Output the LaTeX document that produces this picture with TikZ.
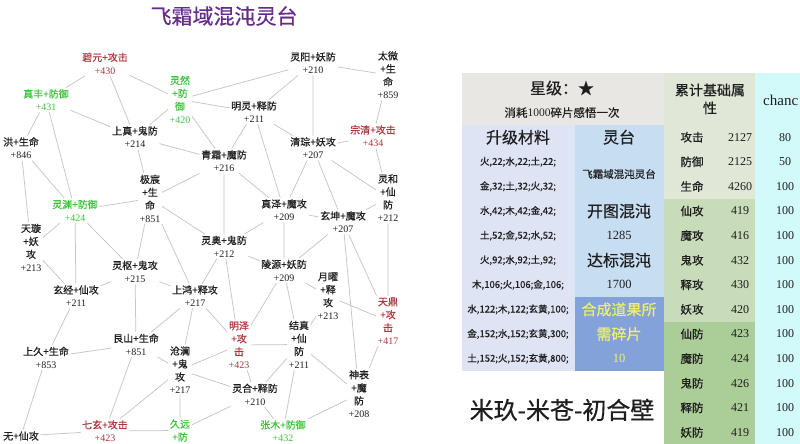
\documentclass[tikz,border=0pt]{standalone}
\usepackage{fontspec}
\setmainfont{Liberation Serif}
\newfontfamily\cjk[FakeBold=0.5]{Noto Sans CJK SC}
\newcommand\nm[1]{{\rmfamily #1}}
\definecolor{nodeblack}{HTML}{1E1E1E}
\definecolor{nodered}{HTML}{B0343C}
\definecolor{nodegreen}{HTML}{3DC43D}
\definecolor{edgegray}{HTML}{C3C7C7}
\definecolor{titlepurple}{HTML}{652C8C}
\definecolor{hdgray}{HTML}{E9E7E3}
\definecolor{matblue}{HTML}{DEE4F4}
\definecolor{taiblue}{HTML}{C7DDF1}
\definecolor{deepblue}{HTML}{83A2DA}
\definecolor{yellowtxt}{HTML}{F0F266}
\definecolor{grnhead}{HTML}{E0E7D7}
\definecolor{grnmid}{HTML}{C9DCB9}
\definecolor{grndark}{HTML}{ABCD97}
\definecolor{cyanbg}{HTML}{D3FAFA}
\begin{document}
\begin{tikzpicture}[x=1pt, y=-1pt,
		tn/.style={font=\cjk\fontsize{10}{13}\selectfont, align=center, inner sep=1.5pt, text=nodeblack},
		rn/.style={tn, text=nodered},
		gn/.style={tn, text=nodegreen},
		link/.style={draw=edgegray, line width=0.75pt},
		bigcell/.style={font=\cjk\fontsize{16}{16}\selectfont, text=nodeblack, inner sep=0pt},
		matcell/.style={font=\cjk\fontsize{9.5}{9.5}\selectfont, text=nodeblack, inner sep=0pt},
		numcell/.style={font=\fontsize{12.5}{12.5}\selectfont, text=nodeblack, inner sep=0pt},
		attrcell/.style={font=\cjk\fontsize{11.5}{11.5}\selectfont, text=nodeblack, inner sep=0pt},
		valcell/.style={font=\fontsize{12}{12}\selectfont, text=nodeblack, inner sep=0pt}]
		\pgfmathsetmacro{\rt}{75.7}
		\pgfmathsetmacro{\rh}{24.6}
		\useasboundingbox (0,0) rectangle (800,444);
		\fill[white] (0,0) rectangle (800,444);
		\node[font=\cjk\fontsize{21}{21}\selectfont, text=titlepurple] (title) at (224,16) {飞霜域混沌灵台};
		\node[rn] (biyuan) at (105,63.5) {碧元+攻击\\\nm{+430}};
		\node[gn] (zhenfeng) at (46,100) {真丰+防御\\\nm{+431}};
		\node[gn] (lingran) at (180,99.5) {灵然\\+防\\御\\\nm{+420}};
		\node[tn] (lingyang) at (313,63) {灵阳+妖防\\\nm{+210}};
		\node[tn] (taiwei) at (388,75) {太微\\+生\\命\\\nm{+859}};
		\node[tn] (hong) at (21,148) {洪+生命\\\nm{+846}};
		\node[tn] (shangzhen) at (135,137) {上真+鬼防\\\nm{+214}};
		\node[tn] (mingling) at (254,112) {明灵+释防\\\nm{+211}};
		\node[tn] (qingcong) at (313,148) {清琮+妖攻\\\nm{+207}};
		\node[rn] (zongqing) at (373,136) {宗清+攻击\\\nm{+434}};
		\node[tn] (qingshuang) at (224,161) {青霜+魔防\\\nm{+216}};
		\node[tn] (jichen) at (150,198.5) {极宸\\+生\\命\\\nm{+851}};
		\node[tn] (linghe) at (388,198) {灵和\\+仙\\防\\\nm{+212}};
		\node[gn] (lingyuan) at (75,210.5) {灵渊+防御\\\nm{+424}};
		\node[tn] (zhenze) at (284,210) {真泽+魔攻\\\nm{+209}};
		\node[tn] (xuankun) at (343,222) {玄坤+魔攻\\\nm{+207}};
		\node[tn] (tianxuan) at (31,247.5) {天璇\\+妖\\攻\\\nm{+213}};
		\node[tn] (lingao) at (224,246.5) {灵奥+鬼防\\\nm{+212}};
		\node[tn] (lingshu) at (135,271.5) {灵枢+鬼攻\\\nm{+215}};
		\node[tn] (lingyuantwo) at (284,270.5) {陵源+妖防\\\nm{+209}};
		\node[tn] (yueyao) at (328,296) {月曜\\+释\\攻\\\nm{+213}};
		\node[tn] (xuanjing) at (76,296) {玄经+仙攻\\\nm{+211}};
		\node[tn] (shanghong) at (195,296) {上鸿+释攻\\\nm{+217}};
		\node[rn] (tianding) at (388,321) {天鼎\\+攻\\击\\\nm{+417}};
		\node[rn] (mingze) at (239,345) {明泽\\+攻\\击\\\nm{+423}};
		\node[tn] (jiezhen) at (299,344.5) {结真\\+仙\\防\\\nm{+211}};
		\node[tn] (genshan) at (136,344.5) {艮山+生命\\\nm{+851}};
		\node[tn] (shangjiu) at (46,357.5) {上久+生命\\\nm{+853}};
		\node[tn] (canglan) at (180,370) {沧澜\\+鬼\\攻\\\nm{+217}};
		\node[tn] (linghetwo) at (255,394.5) {灵合+释防\\\nm{+210}};
		\node[tn] (shenbiao) at (359,394) {神表\\+魔\\防\\\nm{+208}};
		\node[rn] (qixuan) at (105,431) {七玄+攻击\\\nm{+423}};
		\node[gn] (jiuyuan) at (180,430.5) {久远\\+防};
		\node[gn] (zhangmu) at (283,431) {张木+防御\\\nm{+432}};
		\node[tn] (wu) at (21,436) {无+仙攻};
		\draw[link]
			(biyuan) -- (zhenfeng) (biyuan) -- (shangzhen) (biyuan) -- (lingran)
			(zhenfeng) -- (shangzhen) (zhenfeng) -- (hong) (zhenfeng) -- (lingyuan)
			(lingran) -- (shangzhen) (lingran) -- (lingyang) (lingran) -- (mingling) (lingran) -- (qingshuang)
			(shangzhen) -- (qingshuang) (shangzhen) -- (jichen)
			(lingyang) -- (mingling) (lingyang) -- (qingcong) (lingyang) -- (taiwei)
			(taiwei) -- (zongqing) (zongqing) -- (qingcong) (zongqing) -- (linghe)
			(mingling) -- (qingshuang) (mingling) -- (zhenze) (mingling) -- (qingcong)
			(qingcong) -- (linghe) (qingcong) -- (zhenze) (qingcong) -- (xuankun)
			(qingshuang) -- (lingao) (qingshuang) -- (zhenze) (qingshuang) -- (jichen)
			(zhenze) -- (xuankun) (zhenze) -- (lingao) (zhenze) -- (lingyuantwo)
			(xuankun) -- (linghe) (xuankun) -- (lingyuantwo) (xuankun) -- (shenbiao) (xuankun) -- (tianding)
			(linghe) -- (tianding)
			(hong) -- (lingyuan) (hong) -- (tianxuan)
			(lingyuan) -- (jichen) (lingyuan) -- (tianxuan) (lingyuan) -- (xuanjing) (lingyuan) -- (lingshu)
			(tianxuan) -- (xuanjing)
			(jichen) -- (lingshu) (jichen) -- (shanghong) (jichen) -- (lingao)
			(lingao) -- (lingyuantwo) (lingao) -- (shanghong) (lingao) -- (mingze)
			(lingshu) -- (xuanjing) (lingshu) -- (shanghong) (lingshu) -- (genshan)
			(lingyuantwo) -- (yueyao) (lingyuantwo) -- (jiezhen) (lingyuantwo) -- (mingze)
			(yueyao) -- (jiezhen) (yueyao) -- (tianding)
			(tianding) -- (shenbiao)
			(jiezhen) -- (shenbiao) (jiezhen) -- (mingze) (jiezhen) -- (linghetwo) (jiezhen) -- (zhangmu)
			(shenbiao) -- (zhangmu) (linghetwo) -- (zhangmu)
			(mingze) -- (linghetwo) (mingze) -- (canglan)
			(shanghong) -- (mingze) (shanghong) -- (canglan) (shanghong) -- (genshan)
			(canglan) -- (linghetwo) (canglan) -- (jiuyuan) (canglan) -- (qixuan) (canglan) -- (genshan)
			(linghetwo) -- (jiuyuan)
			(genshan) -- (shangjiu) (genshan) -- (qixuan)
			(qixuan) -- (jiuyuan) (qixuan) -- (wu)
			(shangjiu) -- (wu) (shangjiu) -- (xuanjing);
		\fill[hdgray] (462,73) rectangle (664,{\rt+2*\rh});
		\fill[matblue] (462,{\rt+2*\rh}) rectangle (575,{\rt+12*\rh});
		\fill[taiblue] (575,{\rt+2*\rh}) rectangle (664,{\rt+9*\rh});
		\fill[deepblue] (575,{\rt+9*\rh}) rectangle (664,{\rt+12*\rh});
		\fill[grnhead] (664,73) rectangle (755,{\rt+5*\rh});
		\fill[grnmid] (664,{\rt+5*\rh}) rectangle (755,{\rt+10*\rh});
		\fill[grndark] (664,{\rt+10*\rh}) rectangle (755,444);
		\fill[cyanbg] (755,73) rectangle (800,444);
		\node[bigcell] (star) at (562,88) {星级：★};
		\node[font=\cjk\fontsize{11.5}{11.5}\selectfont, text=nodeblack] (cost) at (562,112.6) {消耗\nm{1000}碎片感悟一次};
		\node[bigcell] (mathead) at (518,137.2) {升级材料};
		\node[bigcell] (taihead) at (619,137.2) {灵台};
		\node[matcell] (mata) at (518,161.8) {火,22;水,22;土,22;};
		\node[matcell] (matb) at (518,186.4) {金,32;土,32;火,32;};
		\node[matcell] (matc) at (518,211.0) {水,42;木,42;金,42;};
		\node[matcell] (matd) at (518,235.6) {土,52;金,52;水,52;};
		\node[matcell] (mate) at (518,260.2) {火,92;水,92;土,92;};
		\node[matcell] (matf) at (518,284.8) {木,106;火,106;金,106;};
		\node[matcell] (matg) at (518,309.4) {水,122;木,122;玄黄,100;};
		\node[matcell] (math) at (518,334.0) {金,152;水,152;玄黄,300;};
		\node[matcell] (mati) at (518,358.6) {土,152;火,152;玄黄,800;};
		\node[font=\cjk\fontsize{10.5}{10.5}\selectfont, text=nodeblack] (tainame) at (619,174.1) {飞霜域混沌灵台};
		\node[bigcell] (kaitu) at (619,211.0) {开图混沌};
		\node[numcell] (kaitunum) at (619,235.6) {1285};
		\node[bigcell] (dabiao) at (619,260.2) {达标混沌};
		\node[numcell] (dabiaonum) at (619,284.8) {1700};
		\node[font=\cjk\fontsize{15}{24.6}\selectfont, text=yellowtxt, align=center, inner sep=0pt] (hecheng) at (619,321.7) {合成道果所\\需碎片};
		\node[numcell, text=yellowtxt] (suipian) at (619,358.6) {10};
		\node[font=\cjk\fontsize{24}{24}\selectfont, text=nodeblack] (sign) at (562,410) {米玖-米苍-初合壁};
		\node[font=\cjk\fontsize{14}{18}\selectfont, text=nodeblack, align=center, inner sep=0pt] (attrhead) at (710,99) {累计基础属\\性};
		\node[font=\fontsize{15}{15}\selectfont, text=nodeblack, anchor=west, inner sep=0pt] (chancehead) at (763,100) {chanc};
		\foreach \nme/\val/\chc [count=\k from 2] in {攻击/2127/80, 防御/2125/50, 生命/4260/100, 仙攻/419/100, 魔攻/416/100, 鬼攻/432/100, 释攻/430/100, 妖攻/420/100, 仙防/423/100, 魔防/424/100, 鬼防/426/100, 释防/421/100, 妖防/419/100} {
			\pgfmathsetmacro{\yy}{\rt+\rh*(\k+0.5)}
			\node[attrcell] (attr\k) at (692,\yy) {\nme};
			\node[valcell] (val\k) at (740,\yy) {\val};
			\node[valcell] (chc\k) at (785,\yy) {\chc};
		}
	\end{tikzpicture}
\end{document}
